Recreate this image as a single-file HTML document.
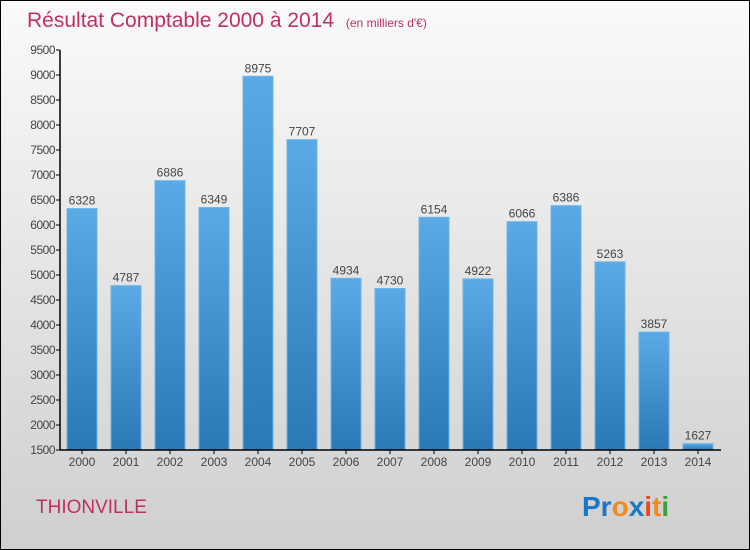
<!DOCTYPE html>
<html><head><meta charset="utf-8"><style>
body{margin:0;width:750px;height:550px;overflow:hidden;font-family:"Liberation Sans",sans-serif;}
#wrap{position:absolute;left:0;top:0;width:748px;height:548px;border:1px solid #000;background:linear-gradient(#fafafa,#cfcfcf);}
</style></head><body>
<div id="wrap">
<svg id="chart" width="750" height="550" style="position:absolute;left:-1px;top:-1px">
<defs><linearGradient id="bg" x1="0" y1="0" x2="0" y2="1"><stop offset="0" stop-color="#5aaae6"/><stop offset="1" stop-color="#2a78b4"/></linearGradient></defs>
<text x="27" y="27" font-size="21" fill="#c0305e">Résultat Comptable 2000 à 2014 <tspan font-size="12" dx="6">(en milliers d'€)</tspan></text>
<text x="36" y="513" font-size="19" fill="#c0305e">THIONVILLE</text>
<text x="582" y="516" font-size="28" font-weight="bold"><tspan fill="#1a78c8">Pr</tspan><tspan fill="#f08c1e">o</tspan><tspan fill="#1a78c8">x</tspan><tspan fill="#e84a1e">i</tspan><tspan fill="#f08c1e">t</tspan><tspan fill="#3aa040">i</tspan></text>
<g id="plot"></g>
</svg></div>
<script>
const years=["2000","2001","2002","2003","2004","2005","2006","2007","2008","2009","2010","2011","2012","2013","2014"];
const values=[6328,4787,6886,6349,8975,7707,4934,4730,6154,4922,6066,6386,5263,3857,1627];
const yTicks=[1500,2000,2500,3000,3500,4000,4500,5000,5500,6000,6500,7000,7500,8000,8500,9000,9500];
const NS="http://www.w3.org/2000/svg";
const g=document.getElementById('plot');
const x0=60,x1=720,yTop=50,yBot=450,yMin=1500,yMax=9500;
const band=(x1-x0)/years.length;
const y=v=>yBot-(v-yMin)/(yMax-yMin)*(yBot-yTop);
const xc=i=>x0+band*(i+0.5);
function mk(t,a){const e=document.createElementNS(NS,t);for(const k in a)e.setAttribute(k,a[k]);g.appendChild(e);return e;}
values.forEach((v,i)=>{
 const r=mk('rect',{x:xc(i)-15,y:y(v),width:30,height:yBot-y(v),fill:'url(#bg)',stroke:'#6ab4ec','stroke-width':1});
 
 
 const t=mk('text',{x:xc(i),y:y(v)-4,'font-size':12,fill:'#444','text-anchor':'middle'});t.textContent=v;
 
 
 const xl=mk('text',{x:xc(i),y:466,'font-size':12,fill:'#444','text-anchor':'middle'});xl.textContent=years[i];
 
 
 const tk=mk('line',{x1:xc(i),x2:xc(i),y1:yBot,y2:yBot+4,stroke:'#000'});
 
 
});
yTicks.forEach(v=>{
 const l=mk('line',{x1:x0-4,x2:x0,y1:y(v),y2:y(v),stroke:'#000'});
 
 
 const t=mk('text',{x:x0-5,y:y(v)+4,'font-size':12,fill:'#444','text-anchor':'end','letter-spacing':'-0.5'});t.textContent=v;
 
 
});
const ya=mk('line',{x1:x0,x2:x0,y1:yTop,y2:yBot,stroke:'#000','stroke-width':1.5});


const xa=mk('line',{x1:x0,x2:x1+1,y1:yBot,y2:yBot,stroke:'#000','stroke-width':1.5});


</script>
</body></html>
